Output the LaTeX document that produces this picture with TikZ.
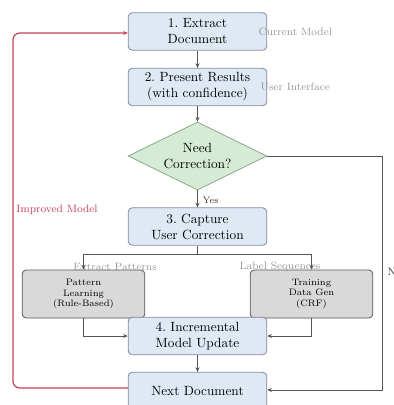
\documentclass[tikz,border=0pt]{standalone}
\usetikzlibrary{shapes.geometric,arrows.meta}
\definecolor{boxfill}{HTML}{DEE9F4}
\definecolor{boxdraw}{HTML}{7D8C9C}
\definecolor{dfill}{HTML}{D6EBD6}
\definecolor{ddraw}{HTML}{8CA88C}
\definecolor{gfill}{HTML}{D9D9D9}
\definecolor{gdraw}{HTML}{555555}
\definecolor{redl}{HTML}{C63E5C}
\definecolor{linec}{HTML}{555555}
\begin{document}
\begin{tikzpicture}[x=0.75pt,y=-0.75pt,
  mainbox/.style={rectangle,rounded corners=3pt,draw=boxdraw,fill=boxfill,line width=0.6pt,
    minimum width=104pt,minimum height=28pt,align=center,font=\normalsize,inner sep=1pt},
  graybox/.style={rectangle,rounded corners=3pt,draw=gdraw,fill=gfill,line width=0.6pt,
    minimum width=92pt,minimum height=36pt,align=center,font=\scriptsize,inner sep=1pt},
  decision/.style={diamond,aspect=2,draw=ddraw,fill=dfill,line width=0.6pt,
    minimum width=104pt,minimum height=51pt,inner sep=0pt,align=center,font=\normalsize},
  sidelabel/.style={font=\footnotesize,text=gray!80,inner sep=1pt},
  conn/.style={draw=linec,line width=0.6pt,-{Stealth[length=3.5pt,width=3pt]}},
  plain/.style={draw=linec,line width=0.6pt}]
\useasboundingbox (0,0) rectangle (394,405);
\node[mainbox] (b1) at (197.5,31.5) {1.\ Extract\\Document};
\node[mainbox] (b2) at (197.5,87) {2.\ Present Results\\(with confidence)};
\node[decision] (d) at (197.5,156) {Need\\Correction?};
\node[mainbox] (b3) at (197.5,226.5) {3.\ Capture\\User Correction};
\node[graybox] (gl) at (83.5,294) {Pattern\\Learning\\(Rule-Based)};
\node[graybox] (gr) at (311.5,294) {Training\\Data Gen\\(CRF)};
\node[mainbox] (b4) at (197.5,336) {4.\ Incremental\\Model Update};
\node[mainbox] (b5) at (197.5,391) {Next Document};

\node[sidelabel,anchor=west] (lcm) at (257,32) {Current Model};
\node[sidelabel,anchor=west] (lui) at (259,87) {User Interface};
\node[sidelabel] (lep) at (115,267) {Extract Patterns};
\node[sidelabel] (lls) at (280,267) {Label Sequences};
\node[font=\footnotesize,text=redl,inner sep=1pt] (lim) at (57,210) {Improved Model};
\node[font=\scriptsize,text=black!80,inner sep=1pt,anchor=west] (lyes) at (201,200) {Yes};
\node[font=\footnotesize,text=black!80,inner sep=1pt,anchor=west] (lno) at (386,272) {No};

\coordinate (split) at (197.5,254);
\draw[conn] (b1) -- (b2);
\draw[conn] (b2) -- (d);
\draw[conn] (d) -- (b3);
\draw[plain] (b3.south) -- (split);
\draw[conn] (split) -| (gl.north);
\draw[conn] (split) -| (gr.north);
\draw[conn] (gl.south) |- (b4.west);
\draw[conn] (gr.south) |- (b4.east);
\draw[conn] (b4) -- (b5);
\draw[conn] (d.east) -- (382,156) -- (382,390) -- (b5.east |- 0,390);
\draw[draw=redl,line width=0.9pt,rounded corners=5pt,-{Stealth[length=3.5pt,width=3pt]}]
  (b5.west |- 0,388) -- (13,388) -- (13,33) -- (b1.west |- 0,33);
\end{tikzpicture}
\end{document}
